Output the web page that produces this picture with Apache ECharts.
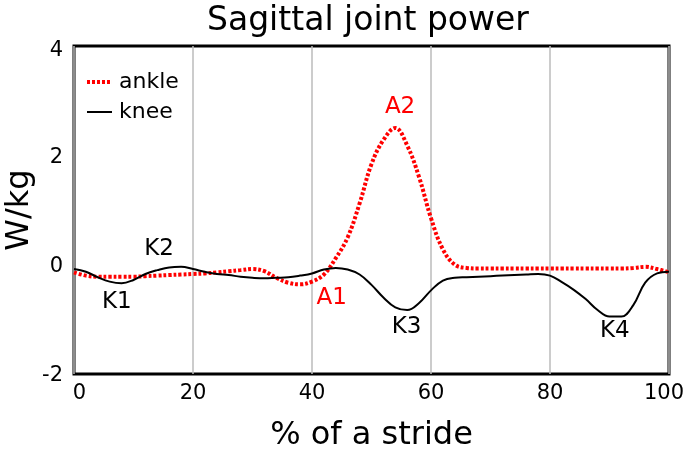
<!DOCTYPE html>
<html>
<head>
<meta charset="utf-8">
<script src="https://cdn.jsdelivr.net/npm/echarts@6/dist/echarts.min.js"></script>
<style>html,body{margin:0;padding:0;background:#fff}#c{width:685px;height:449px}</style>
</head>
<body>
<div id="c"></div>
<script>
var strideX = [0,2,4,6,8,10,12,14,16,18,20,22,24,26,28,30,32,34,36,38,40,42,44,46,48,50,52,54,56,58,60,62,64,66,68,70,72,74,76,78,80,82,84,86,88,90,92,94,96,98,100];
var ankle = [-0.14,-0.2,-0.22,-0.22,-0.22,-0.22,-0.21,-0.2,-0.19,-0.18,-0.17,-0.16,-0.14,-0.12,-0.1,-0.08,-0.12,-0.24,-0.33,-0.36,-0.31,-0.18,0.12,0.5,1.12,1.84,2.28,2.5,2.18,1.6,0.85,0.28,0.0,-0.06,-0.07,-0.07,-0.07,-0.07,-0.07,-0.07,-0.07,-0.07,-0.07,-0.07,-0.07,-0.07,-0.07,-0.06,-0.04,-0.08,-0.14];
var knee = [-0.08,-0.13,-0.23,-0.31,-0.34,-0.28,-0.17,-0.1,-0.05,-0.04,-0.08,-0.13,-0.17,-0.19,-0.22,-0.24,-0.25,-0.24,-0.23,-0.2,-0.16,-0.09,-0.06,-0.09,-0.18,-0.37,-0.6,-0.78,-0.83,-0.7,-0.47,-0.29,-0.24,-0.23,-0.22,-0.21,-0.2,-0.19,-0.18,-0.17,-0.2,-0.32,-0.46,-0.63,-0.83,-0.95,-0.95,-0.74,-0.33,-0.16,-0.13];
var annotNames = ['K1','K2','A1','A2','K3','K4'];
var annotX = [7.2,14.3,43.3,54.8,55.9,90.9];
var annotY = [-0.68,0.28,-0.61,2.89,-1.14,-1.22];
var annotColors = ['#000','#000','#f00','#f00','#000','#000'];
var xTicks = [0,20,40,60,80,100];
var yTicks = [-2,0,2,4];

function pairs(xs, ys){ return xs.map(function(x,i){ return [x, ys[i]]; }); }

var dottedIcon = 'path://M0,0h3v4h-3zM5,0h3v4h-3zM10,0h3v4h-3zM15,0h3v4h-3zM20,0h3v4h-3zM25,0h0.01v4h-0.01z';
var solidIcon = 'path://M0,0h25v2h-25z';

var font = 'DejaVu Sans';
var tickRich = {fontFamily: font, fontSize: 21, color: '#000'};
var chart = echarts.init(document.getElementById('c'));
chart.setOption({
  animation: false,
  textStyle: {fontFamily: font},
  title: {
    text: 'Sagittal joint power',
    left: 202, top: 0,
    textStyle: {fontFamily: font, fontSize: 33, fontWeight: 'normal', color: '#000'}
  },
  legend: {
    data: [{name: 'ankle', icon: dottedIcon}, {name: 'knee', icon: solidIcon}],
    orient: 'vertical',
    left: 82, top: 66,
    itemWidth: 25, itemHeight: 4, itemGap: 8,
    textStyle: {fontFamily: font, fontSize: 22, color: '#000', padding: [0, 0, 6, 2]}
  },
  grid: {left: 74, right: 16, top: 46, bottom: 75, show: true, borderColor: '#000', borderWidth: 3, backgroundColor: 'transparent', containLabel: false, outerBoundsMode: 'none'},
  xAxis: {
    type: 'value', min: 0, max: 100, interval: 20,
    name: '% of a stride', nameLocation: 'middle', nameGap: 46, nameMoveOverlap: false,
    nameTextStyle: {fontFamily: font, fontSize: 32, color: '#000'},
    axisLine: {show: false}, axisTick: {show: false},
    axisLabel: {
      fontFamily: font, fontSize: 21, color: '#000', margin: 9,
      formatter: function(v){ return v === xTicks[0] ? '{a|' + v + '}' : (v === xTicks[xTicks.length-1] ? '{b|' + v + '}' : String(v)); },
      rich: {
        a: Object.assign({padding: [0, 0, 0, 11]}, tickRich),
        b: Object.assign({padding: [0, 10, 0, 0]}, tickRich)
      }
    },
    splitLine: {show: true, lineStyle: {color: '#bbb', width: 1.5}}
  },
  yAxis: {
    type: 'value', min: -2, max: 4, interval: 2,
    name: 'W/kg', nameLocation: 'middle', nameGap: 38, nameMoveOverlap: false,
    nameTextStyle: {fontFamily: font, fontSize: 32, color: '#000'},
    axisLine: {show: false}, axisTick: {show: false},
    axisLabel: {
      fontFamily: font, fontSize: 21, color: '#000', margin: 11,
      formatter: function(v){ return v === yTicks[yTicks.length-1] ? '{t|' + v + '}' : '{n|' + v + '}'; },
      rich: {
        t: Object.assign({padding: [10, 0, 0, 0]}, tickRich),
        n: Object.assign({padding: [4, 0, 0, 0]}, tickRich)
      }
    },
    splitLine: {show: false}
  },
  series: [
    {
      name: 'ankle', type: 'line', data: pairs(strideX, ankle), smooth: 0.4,
      symbol: 'none', z: 3,
      itemStyle: {color: '#f00'},
      lineStyle: {color: '#f00', width: 4, type: [3, 2]}
    },
    {
      name: 'knee', type: 'line', data: pairs(strideX, knee), smooth: 0.4,
      symbol: 'none', z: 4,
      itemStyle: {color: '#000'},
      lineStyle: {color: '#000', width: 2}
    },
    {
      name: 'labels', type: 'scatter', symbolSize: 0, silent: true,
      data: annotNames.map(function(n,i){ return {name: n, value: [annotX[i], annotY[i]], label: {color: annotColors[i]}}; }),
      label: {show: true, position: [0, 0], align: 'center', verticalAlign: 'middle', formatter: '{b}', fontFamily: font, fontSize: 23, textBorderWidth: 0, opacity: 1}
    }
  ]
});
</script>
</body>
</html>
